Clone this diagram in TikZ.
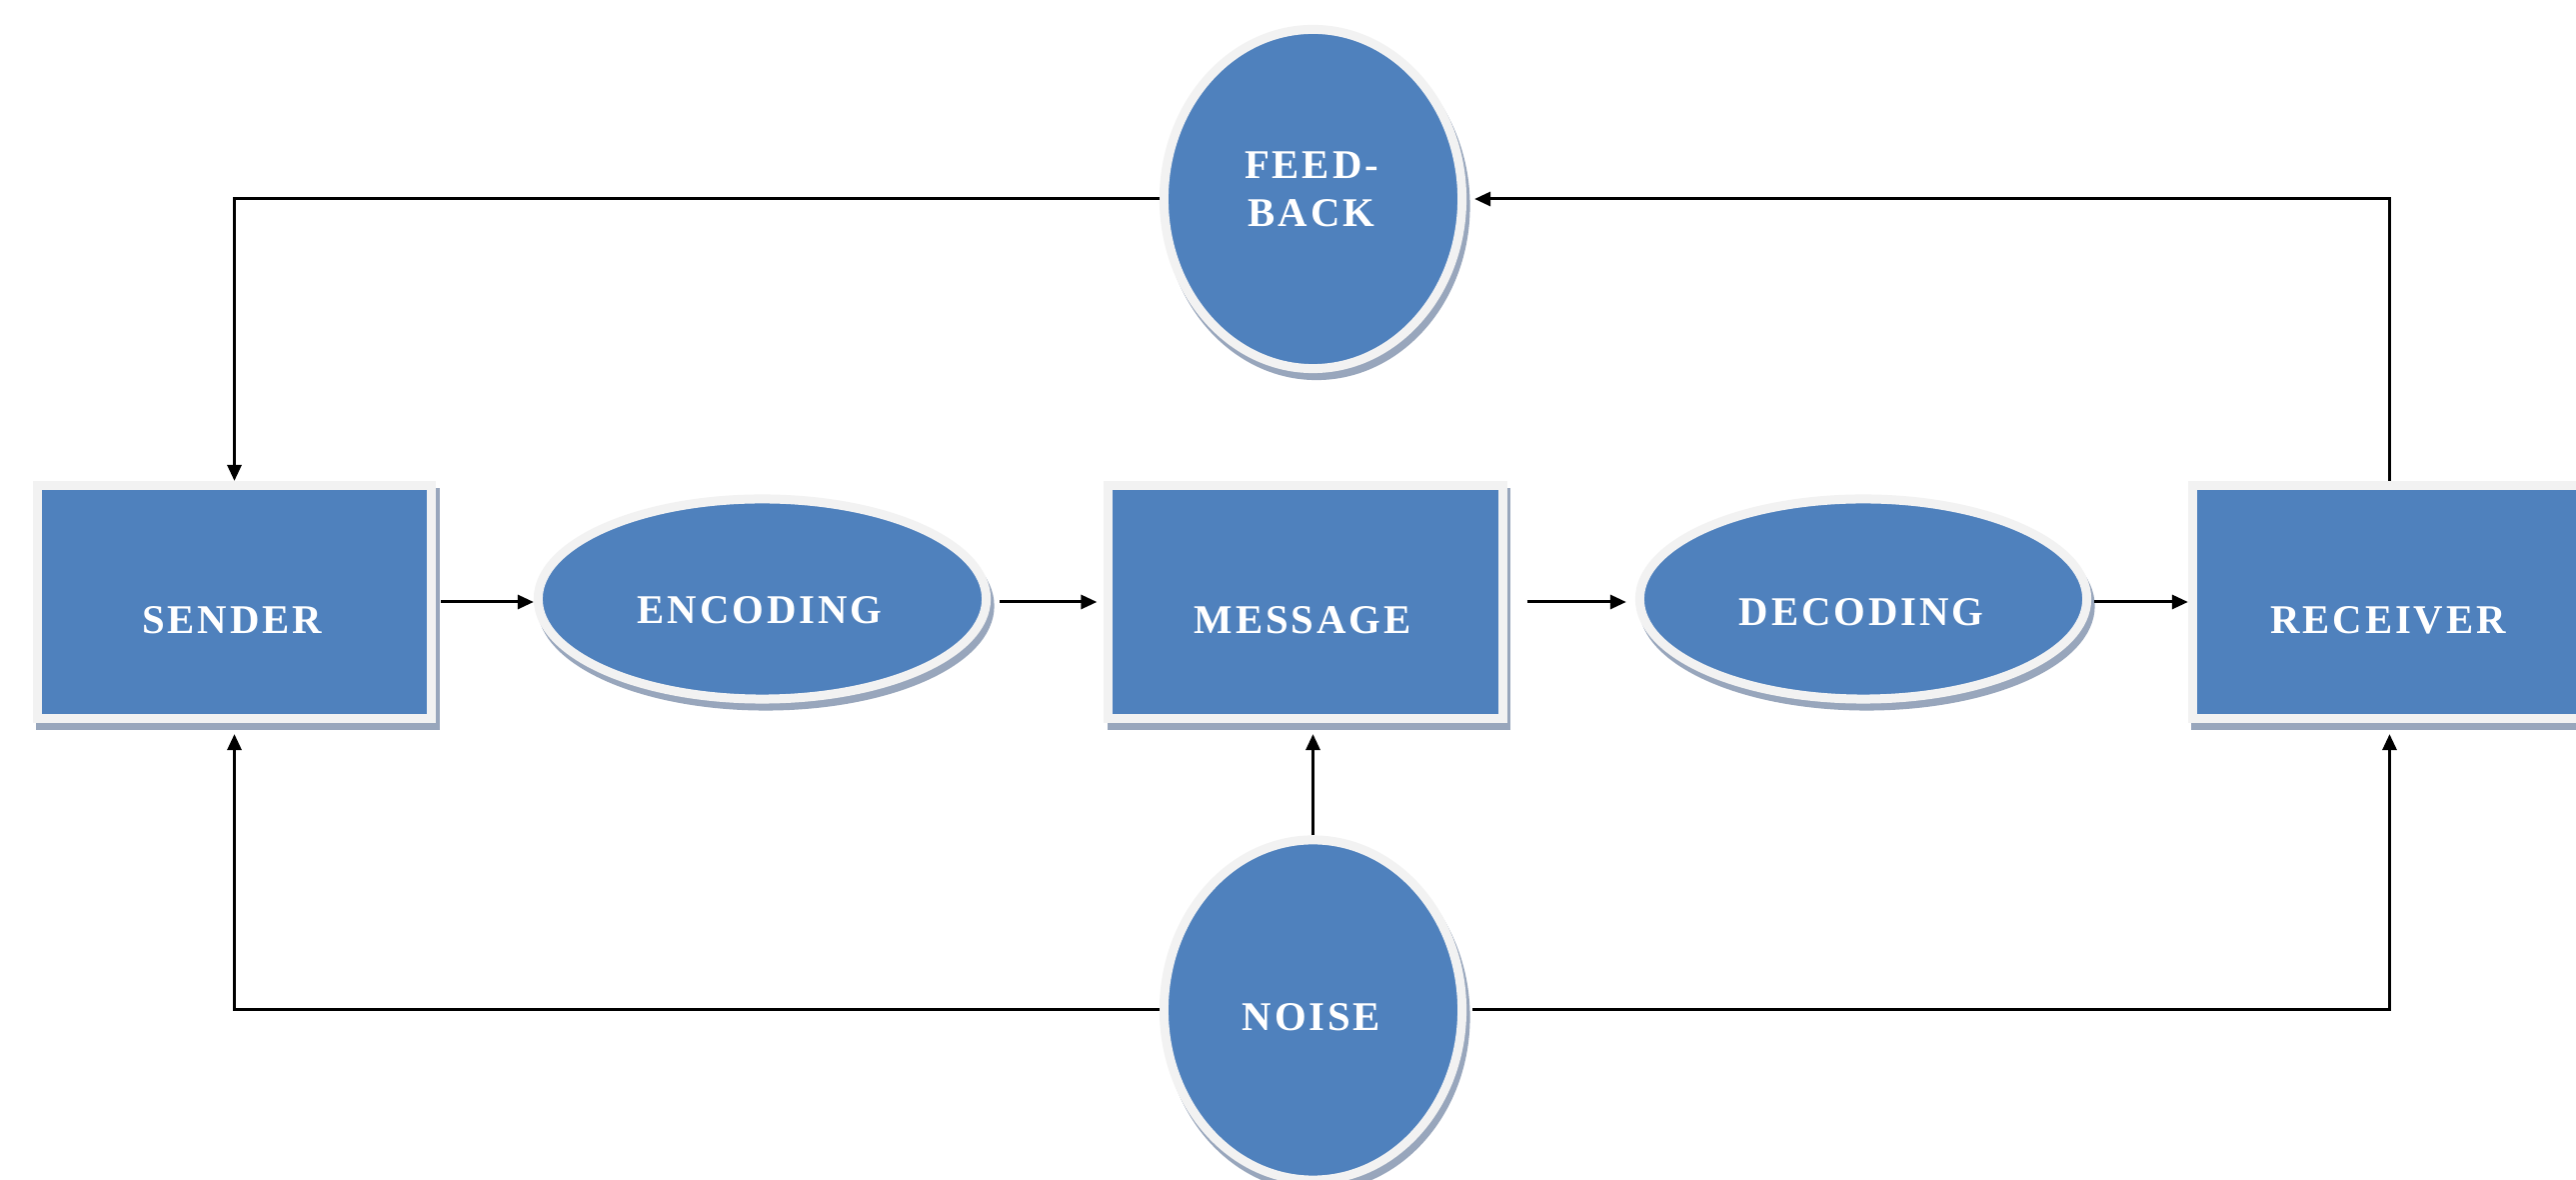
\documentclass[tikz,border=0pt]{standalone}
\usepackage{fontspec}
\setmainfont{Liberation Serif}
\newfontfamily\lblfont[LetterSpace=7]{Liberation Serif}
\usetikzlibrary{shapes.geometric,arrows.meta,shadows}
\definecolor{fillblue}{HTML}{4F81BD}
\definecolor{rimc}{HTML}{F2F2F2}
\definecolor{shadc}{HTML}{98A6BC}
\begin{document}
\begin{tikzpicture}[x=0.01cm,y=-0.01cm,
  shp/.style={fill=fillblue, draw=rimc, line width=0.09cm, inner sep=0pt, outer sep=0.045cm,
     drop shadow={shadow xshift=0.035cm, shadow yshift=-0.07cm, fill=shadc, draw=shadc, line width=0.09cm, opacity=1}},
  boxshape/.style={shp, rectangle, minimum width=3.94cm, minimum height=2.33cm},
  ell/.style={shp, ellipse},
  lbl/.style={text=white, font=\lblfont\bfseries\fontsize{11.6}{13.7}\selectfont, align=center, inner sep=0pt},
  arr/.style={line width=0.03cm, -{Triangle[length=0.16cm,width=0.14cm]}}
]
\useasboundingbox[fill=white] (0,0) rectangle (2577,1180);

\node[boxshape] (snd) at (234.5,602) {};
\node[ell, minimum width=4.48cm, minimum height=2cm] (enc) at (762.5,599) {};
\node[boxshape] (msg) at (1306,602) {};
\node[ell, minimum width=4.47cm, minimum height=2cm] (dec) at (1864,599) {};
\node[boxshape] (rcv) at (2390.5,602) {};
\node[ell, minimum width=2.98cm, minimum height=3.39cm] (fb) at (1313.5,199) {};
\node[ell, minimum width=2.98cm, minimum height=3.4cm] (nz) at (1313.5,1010) {};

\node[lbl] (tsnd) at (232,620) {SENDER};
\node[lbl] (tenc) at (760,610) {ENCODING};
\node[lbl] (tmsg) at (1303,620) {MESSAGE};
\node[lbl] (tdec) at (1862,612) {DECODING};
\node[lbl] (trcv) at (2389,620) {RECEIVER};
\node[lbl] (tfb) at (1312,189) {FEED-\\BACK};
\node[lbl] (tnz) at (1312,1017) {NOISE};

\draw[arr, shorten <=0.05cm] (snd.east) -- (snd.east -| enc.west);
\draw[arr, shorten <=0.09cm, shorten >=0.07cm] (msg.west -| enc.east) -- (msg.west);
\draw[arr, shorten <=0.2cm, shorten >=0.09cm] (msg.east) -- (msg.east -| dec.west);
\draw[arr, shorten <=0.03cm] (rcv.west -| dec.east) -- (rcv.west);

\draw[arr] (fb.west) -| (snd.north);
\draw[arr, shorten >=0.08cm] (rcv.north) |- (fb.east);

\draw[arr, shorten >=0.11cm] (nz.north) -- (nz.north |- msg.south);
\draw[arr, shorten >=0.11cm] (nz.west) -| (snd.south);
\draw[arr, shorten >=0.11cm, shorten <=0.06cm] (nz.east) -| (rcv.south);
\end{tikzpicture}
\end{document}
